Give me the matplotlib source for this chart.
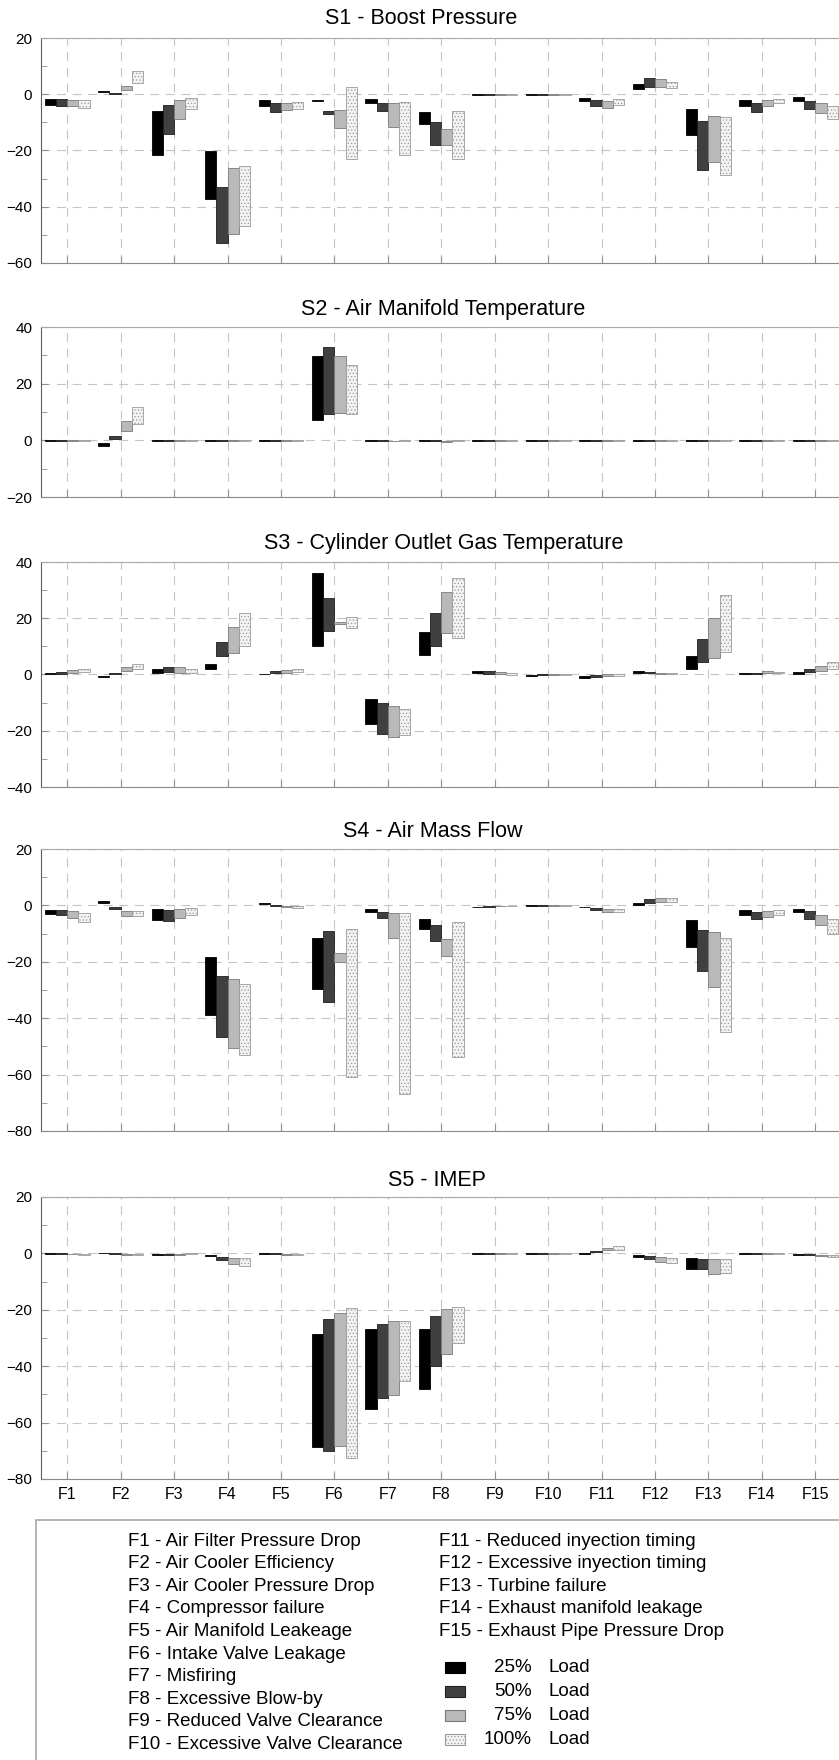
import numpy as np
import matplotlib.pyplot as plt
from matplotlib.patches import Rectangle
from matplotlib.ticker import MultipleLocator

plt.rcParams['font.family'] = ['Liberation Sans', 'DejaVu Sans']
plt.rcParams['hatch.linewidth'] = 0.5

faults = [f"F{i}" for i in range(1, 16)]
loads = ["25%", "50%", "75%", "100%"]
fault_names = [
    "Air Filter Pressure Drop", "Air Cooler Efficiency", "Air Cooler Pressure Drop",
    "Compressor failure", "Air Manifold Leakeage", "Intake Valve Leakage",
    "Misfiring", "Excessive Blow-by", "Reduced Valve Clearance",
    "Excessive Valve Clearance", "Reduced inyection timing",
    "Excessive inyection timing", "Turbine failure", "Exhaust manifold leakage",
    "Exhaust Pipe Pressure Drop",
]

# rows: 25%, 50%, 75%, 100% load; columns: F1..F15
S1_low = [
    [-3.8, 0.8, -21.7, -37.1, -4.1, -2.5, -3.0, -10.7, -0.2, -0.2, -2.4, 1.7, -14.4, -4.3, -2.4],
    [-4.1, 0.2, -14.1, -52.8, -6.3, -7.1, -6.0, -18.2, -0.2, -0.2, -4.3, 2.6, -26.8, -6.2, -5.2],
    [-4.3, 1.4, -8.7, -49.6, -5.7, -11.9, -11.5, -18.2, -0.2, -0.2, -4.8, 2.6, -24.1, -4.3, -6.5],
    [-5.0, 4.1, -5.1, -46.8, -5.4, -23.2, -21.7, -22.9, -0.2, -0.2, -3.9, 2.1, -28.6, -3.1, -8.7],
]
S1_high = [
    [-1.8, 1.3, -5.8, -20.3, -2.2, -2.1, -1.7, -6.3, 0.0, 0.0, -1.3, 3.5, -5.4, -2.2, -1.1],
    [-1.6, 0.6, -3.9, -32.9, -3.1, -6.0, -3.0, -9.8, 0.0, 0.0, -2.2, 5.6, -9.5, -3.0, -2.4],
    [-2.0, 2.8, -2.2, -26.3, -3.0, -5.6, -3.0, -12.5, 0.0, 0.0, -2.5, 5.4, -7.6, -2.2, -3.2],
    [-2.2, 8.1, -1.3, -25.4, -2.6, 2.4, -2.6, -6.0, 0.0, 0.0, -1.8, 4.5, -8.1, -1.6, -4.1],
]

S2_low = [
    [-0.1, -2.0, -0.1, -0.1, -0.1, 7.3, -0.1, -0.1, -0.1, -0.1, -0.1, -0.1, -0.1, -0.1, -0.1],
    [-0.1, 0.6, -0.1, -0.1, -0.1, 9.2, -0.1, -0.1, -0.1, -0.1, -0.1, -0.1, -0.1, -0.1, -0.1],
    [-0.1, 3.3, -0.1, -0.1, -0.1, 9.5, -0.4, -0.5, -0.1, -0.1, -0.1, -0.1, -0.1, -0.1, -0.1],
    [-0.1, 5.7, -0.1, -0.1, -0.1, 9.2, -0.1, -0.1, -0.1, -0.1, -0.1, -0.1, -0.1, -0.1, -0.1],
]
S2_high = [
    [0.0, -1.0, 0.0, 0.0, 0.0, 29.9, 0.0, 0.0, 0.0, 0.0, 0.0, 0.0, 0.0, 0.0, 0.0],
    [0.0, 1.4, 0.0, 0.0, 0.0, 32.9, 0.0, 0.0, 0.0, 0.0, 0.0, 0.0, 0.0, 0.0, 0.0],
    [0.0, 7.0, 0.0, 0.0, 0.0, 29.9, -0.1, -0.1, 0.0, 0.0, 0.0, 0.0, 0.0, 0.0, 0.0],
    [0.0, 11.9, 0.0, 0.0, 0.0, 26.6, 0.0, 0.0, 0.0, 0.0, 0.0, 0.0, 0.0, 0.0, 0.0],
]

S3_low = [
    [0.0, -0.8, 0.5, 2.0, 0.1, 10.3, -17.6, 7.1, 0.4, -0.4, -1.1, 0.6, 2.1, 0.0, 0.1],
    [0.1, 0.2, 0.8, 6.4, 0.4, 15.5, -21.3, 10.1, 0.2, -0.3, -0.8, 0.4, 4.3, 0.2, 0.8],
    [0.6, 1.3, 0.6, 7.8, 0.6, 18.0, -22.1, 14.6, 0.0, -0.2, -0.5, 0.2, 6.0, 0.4, 1.3],
    [1.0, 1.9, 0.5, 10.2, 0.9, 16.6, -21.6, 12.8, -0.2, -0.1, -0.4, 0.2, 7.9, 0.4, 2.1],
]
S3_high = [
    [0.4, -0.5, 2.1, 3.9, 0.3, 36.2, -8.6, 15.2, 1.2, -0.1, -0.5, 1.3, 6.7, 0.4, 0.8],
    [1.0, 0.7, 2.8, 11.4, 1.1, 27.1, -10.3, 21.9, 1.2, 0.0, -0.2, 0.9, 12.7, 0.7, 1.8],
    [1.5, 2.8, 2.5, 17.0, 1.5, 18.6, -11.1, 29.2, 0.8, 0.1, 0.0, 0.7, 20.2, 1.2, 3.1],
    [2.0, 3.8, 1.9, 21.9, 2.0, 20.5, -12.1, 34.4, 0.4, 0.2, 0.1, 0.6, 28.4, 0.9, 4.6],
]

S4_low = [
    [-3.2, 0.7, -5.1, -38.7, 0.5, -29.7, -2.3, -8.4, -0.7, -0.2, -0.7, 0.1, -14.7, -3.3, -2.2],
    [-3.3, -1.1, -5.4, -46.7, -0.2, -34.2, -4.6, -12.8, -0.5, -0.2, -1.7, 0.8, -23.3, -4.7, -4.7],
    [-4.3, -3.7, -4.6, -50.6, -0.5, -20.2, -11.7, -17.8, -0.3, -0.2, -2.5, 1.2, -28.8, -4.1, -7.0],
    [-5.8, -3.7, -3.4, -53.0, -0.9, -60.8, -66.9, -53.7, -0.3, -0.2, -2.5, 1.3, -45.0, -3.4, -10.1],
]
S4_high = [
    [-1.5, 1.5, -1.3, -18.2, 1.0, -11.5, -1.4, -4.9, -0.4, 0.0, -0.4, 0.7, -5.2, -1.8, -1.1],
    [-1.5, -0.5, -1.7, -25.0, 0.3, -9.1, -2.3, -7.1, -0.2, 0.0, -0.8, 2.2, -8.8, -2.4, -2.1],
    [-1.9, -2.0, -1.3, -26.2, -0.1, -16.8, -2.8, -11.8, -0.1, 0.0, -1.2, 2.7, -9.5, -2.1, -3.4],
    [-2.7, -2.0, -0.9, -28.0, -0.2, -8.5, -2.8, -6.0, -0.1, 0.0, -1.2, 2.6, -11.5, -1.7, -4.9],
]

S5_low = [
    [-0.2, 0.1, -0.6, -1.0, -0.1, -68.7, -55.0, -48.0, -0.1, -0.1, -0.1, -1.2, -5.7, -0.1, -0.5],
    [-0.2, -0.1, -0.7, -2.4, -0.3, -70.2, -51.1, -40.1, -0.1, -0.2, 0.4, -2.0, -5.7, -0.1, -0.6],
    [-0.3, -0.6, -0.4, -3.6, -0.4, -68.2, -50.2, -35.5, -0.2, -0.2, 1.1, -3.0, -7.3, -0.2, -0.8],
    [-0.4, -0.6, -0.3, -4.5, -0.4, -72.6, -45.4, -31.6, -0.2, -0.2, 1.3, -3.4, -7.1, -0.2, -1.1],
]
S5_high = [
    [0.1, 0.3, -0.1, -0.5, 0.1, -28.6, -26.7, -26.7, 0.1, 0.0, 0.2, -0.4, -1.7, 0.1, -0.1],
    [0.0, 0.1, -0.2, -1.2, 0.0, -23.4, -24.9, -22.1, 0.1, 0.0, 0.9, -0.8, -1.9, 0.1, -0.2],
    [-0.1, -0.1, -0.1, -1.7, -0.1, -21.3, -24.1, -19.8, 0.0, 0.0, 2.0, -1.2, -2.0, 0.0, -0.4],
    [-0.1, -0.1, 0.0, -1.8, -0.1, -19.3, -23.9, -18.9, 0.0, 0.0, 2.7, -1.5, -2.1, 0.0, -0.4],
]

sensors = [
    ("S1 - Boost Pressure", S1_low, S1_high, -60, 20),
    ("S2 - Air Manifold Temperature", S2_low, S2_high, -20, 40),
    ("S3 - Cylinder Outlet Gas Temperature", S3_low, S3_high, -40, 40),
    ("S4 - Air Mass Flow", S4_low, S4_high, -80, 20),
    ("S5 - IMEP", S5_low, S5_high, -80, 20),
]

# pixel layout of the panels (top, bottom) and title centres
W, H = 839, 1760
panel_px = [(38, 263), (327, 497), (562, 787), (849, 1131), (1197, 1479)]
title_px = [(421, 18), (443, 310), (444, 543), (433, 831), (437, 1180)]
ax_left, ax_right = 40.5, 842

styles = [
    dict(facecolor="#000000", edgecolor="#000000"),
    dict(facecolor="#404040", edgecolor="#1e1e1e"),
    dict(facecolor="#b9b9b9", edgecolor="#7a7a7a"),
    dict(facecolor="#f3f3f3", edgecolor="#9a9a9a", hatch="....."),
]

fig = plt.figure(figsize=(W / 100, H / 100), dpi=100)
x = np.arange(1, 16)
bw = 0.21
grid_kw = dict(color="#c4c4c4", lw=0.8, ls=(0, (8, 6)))

for k, (title, lo, hi, ymin, ymax) in enumerate(sensors):
    top, bot = panel_px[k]
    ax = fig.add_axes([ax_left / W, 1 - bot / H, (ax_right - ax_left) / W, (bot - top) / H])
    lo = np.array(lo)
    hi = np.array(hi)
    for j in range(4):
        ax.bar(x + (j - 1.5) * bw, hi[j] - lo[j], bottom=lo[j], width=bw,
               linewidth=0.6, zorder=3, **styles[j])
    ax.set_xlim(0.5, 15.5)
    ax.set_ylim(ymin, ymax)
    ax.set_xticks(x)
    ax.yaxis.set_major_locator(MultipleLocator(20))
    ax.yaxis.set_minor_locator(MultipleLocator(10))
    ax.grid(axis="x", **grid_kw)
    ax.grid(axis="y", which="major", **grid_kw)
    ax.tick_params(axis="both", which="both", direction="in", color="#909090",
                   labelsize=11, pad=6)
    ax.tick_params(axis="both", which="major", length=5)
    ax.tick_params(axis="both", which="minor", length=4)
    ax.spines["left"].set_color("#606060")
    ax.spines["bottom"].set_color("#8a8a8a")
    ax.spines["top"].set_color("#a8a8a8")
    ax.spines["right"].set_visible(False)
    if k < 4:
        ax.set_xticklabels([])
    else:
        ax.set_xticklabels(faults, fontsize=11.5)
    tx, ty = title_px[k]
    fig.text(tx / W, 1 - ty / H, title, ha="center", va="center", fontsize=15.5)

# legend box
box_top = 1520
fig.add_artist(Rectangle((36 / W, -0.02), 1.0, (H - box_top) / H + 0.02,
                         transform=fig.transFigure, fill=False,
                         edgecolor="#a8a8a8", lw=1.2))

for i in range(10):
    fig.text(128 / W, 1 - (1541 + i * 22.6) / H, f"{faults[i]} - {fault_names[i]}",
             ha="left", va="center", fontsize=13.5)
for i in range(10, 15):
    fig.text(439 / W, 1 - (1541 + (i - 10) * 22.6) / H, f"{faults[i]} - {fault_names[i]}",
             ha="left", va="center", fontsize=13.5)

for j in range(4):
    yc = 1667 + j * 24
    fig.add_artist(Rectangle((445 / W, 1 - (yc + 5.5) / H), 20 / W, 11 / H,
                             transform=fig.transFigure, linewidth=0.8, **styles[j]))
    fig.text(532 / W, 1 - yc / H, loads[j], ha="right", va="center", fontsize=13.5)
    fig.text(548 / W, 1 - yc / H, "Load", ha="left", va="center", fontsize=13.5)

fig.savefig("out.png", dpi=100)
